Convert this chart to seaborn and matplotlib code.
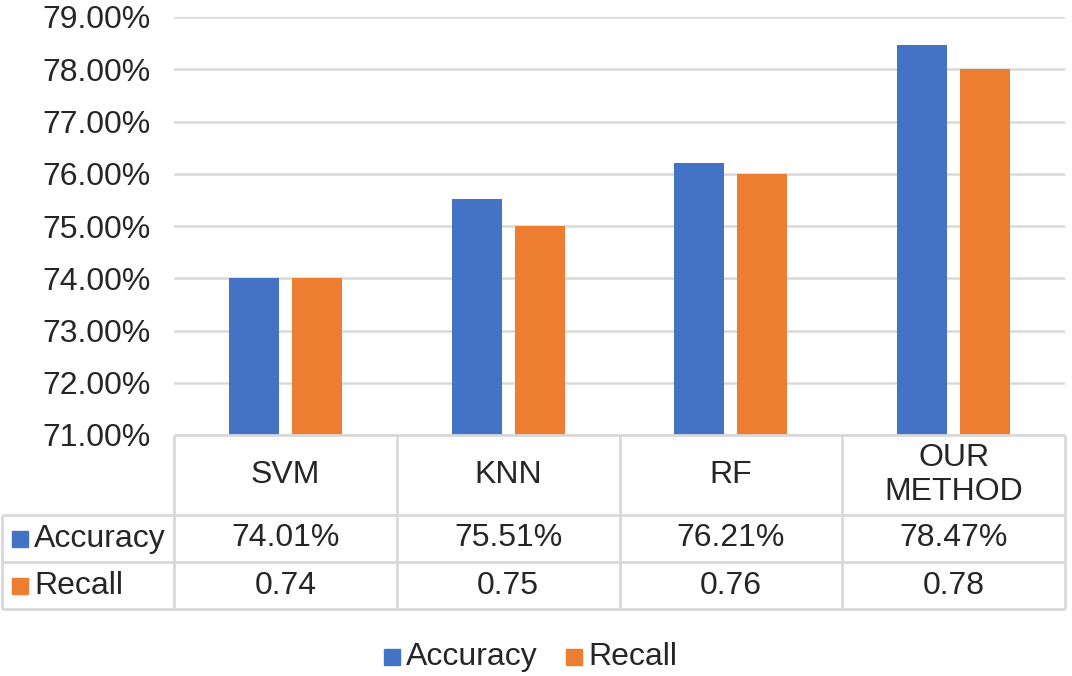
import numpy as np
import pandas as pd
import matplotlib
matplotlib.use("Agg")
import matplotlib.pyplot as plt
import seaborn as sns

methods = ["SVM", "KNN", "RF", "OUR\nMETHOD"]
accuracy = [74.01, 75.51, 76.21, 78.47]
recall = [0.74, 0.75, 0.76, 0.78]
series = ["Accuracy", "Recall"]
colors = ["#4472C4", "#ED7D31"]
yticks = [71, 72, 73, 74, 75, 76, 77, 78, 79]

sns.set_theme(style="white")
plt.rcParams["font.family"] = ["Liberation Sans", "DejaVu Sans"]
FS = 23
GRID = "#d9d9d9"

df = pd.DataFrame({
    "method": methods * 2,
    "series": ["Accuracy"] * 4 + ["Recall"] * 4,
    "value": accuracy + [r * 100 for r in recall],
})

W, H = 1072, 676
fig = plt.figure(figsize=(W / 100, H / 100), dpi=100)

# pixel geometry of the plot area
x0, x1 = 174, 1065
ytop, ybot = 17, 435
ax = fig.add_axes([x0 / W, 1 - ybot / H, (x1 - x0) / W, (ybot - ytop) / H])
sns.barplot(data=df, x="method", y="value", hue="series", palette=colors,
            saturation=1, width=0.566, gap=0.206, linewidth=0,
            ax=ax, legend=False, zorder=3)
ax.set_ylim(71, 79)
ax.set_xlim(-0.5, 3.5)
ax.set_yticks(yticks)
ax.set_yticklabels([f"{t:.2f}%" for t in yticks], fontsize=FS)
ax.set_xticks([])
ax.set_xlabel("")
ax.set_ylabel("")
ax.grid(axis="y", color=GRID, linewidth=1.8, zorder=0)
for s in ax.spines.values():
    s.set_visible(False)
ax.tick_params(axis="y", length=0, pad=17)

# overlay in pixel coordinates for the data table and legend
ov = fig.add_axes([0, 0, 1, 1])
ov.set_xlim(0, W)
ov.set_ylim(H, 0)
ov.axis("off")
ov.patch.set_alpha(0)

r0, r1, r2, r3 = 435, 515, 562, 609
lx = 2
cw = (x1 - x0) / len(methods)
lk = dict(color=GRID, linewidth=2, solid_capstyle="butt")
ov.plot([x0, x1], [r0, r0], **lk)
for yy in (r1, r2, r3):
    ov.plot([lx, x1], [yy, yy], **lk)
for i in range(len(methods) + 1):
    xx = x0 + i * cw
    ov.plot([xx, xx], [r0, r3], **lk)
ov.plot([lx, lx], [r1, r3], **lk)

for i, m in enumerate(methods):
    cx = x0 + (i + 0.5) * cw
    ov.text(cx, (r0 + r1) / 2, m, ha="center", va="center", fontsize=FS,
            linespacing=1.2)
    ov.text(cx, (r1 + r2) / 2, f"{accuracy[i]:.2f}%", ha="center", va="center", fontsize=FS)
    ov.text(cx, (r2 + r3) / 2, f"{recall[i]:.2f}", ha="center", va="center", fontsize=FS)

for j, (name, c) in enumerate(zip(series, colors)):
    yc = (r1 + r2) / 2 if j == 0 else (r2 + r3) / 2
    ov.add_patch(plt.Rectangle((12, yc - 8), 16, 16, color=c))
    ov.text(34, yc, name, ha="left", va="center", fontsize=FS)

# legend
ly = 657
ov.add_patch(plt.Rectangle((384, ly - 8), 16, 16, color=colors[0]))
ov.text(406, ly, series[0], ha="left", va="center", fontsize=FS)
ov.add_patch(plt.Rectangle((566, ly - 8), 16, 16, color=colors[1]))
ov.text(588, ly, series[1], ha="left", va="center", fontsize=FS)

fig.savefig("out.png", dpi=100, facecolor="white")
